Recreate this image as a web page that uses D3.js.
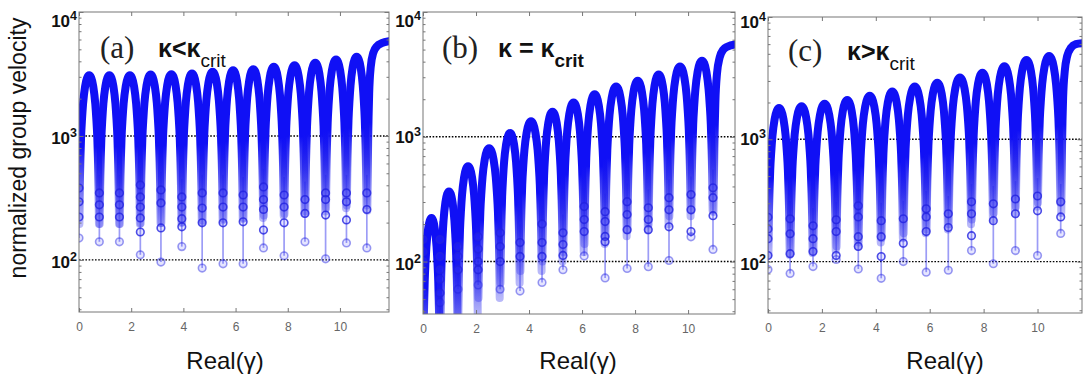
<!DOCTYPE html>
<html><head><meta charset="utf-8">
<script src="https://cdn.jsdelivr.net/npm/d3@7"></script>
<style>body{margin:0;background:#fff} svg{display:block}</style>
</head><body>
<script>
// ---------- data ----------
// shared arch profile: fraction across one arch and drop below the peak (decades)
const archT    = [0.02, 0.04, 0.07, 0.10, 0.15, 0.20, 0.30, 0.40, 0.50, 0.60, 0.70, 0.80, 0.85, 0.90, 0.93, 0.96, 0.98];
const archDrop = [1.20, 0.90, 0.67, 0.51, 0.35, 0.23, 0.09, 0.02, 0.00, 0.02, 0.09, 0.23, 0.35, 0.51, 0.67, 0.90, 1.20];

// panel (a)
const dipsA  = [0, 0.78, 1.55, 2.35, 3.14, 3.94, 4.72, 5.52, 6.29, 7.07, 7.86, 8.66, 9.45, 10.25, 11.03];
const peaksA = [3090, 3090, 3090, 3130, 3150, 3190, 3290, 3390, 3460, 3610, 3720, 3890, 4140, 4350];
const finalXA = [11.05, 11.08, 11.12, 11.18, 11.28, 11.42, 11.60, 11.88];
const finalVA = [250, 900, 2200, 3600, 4700, 5300, 5600, 5800];
const circlesA = [[380,294,222,150],[347,278,222,140],[347,278,222,140],[403,322,267,218,168,110],
  [367,288,181,96],[322,267,215,185,128],[347,262,199,86],[347,267,199,93],[334,267,203,93],
  [388,307,255,174,125],[334,267,199,108],[307,237,140],[347,307,230,102],[347,294,210,137],[347,255,125]];
const lineMinA = [150,140,140,110,96,128,86,93,93,125,108,140,102,137,125];

// panel (b)
const dipsB  = [0, 0.64, 1.32, 2.08, 2.91, 3.66, 4.49, 5.28, 6.08, 6.87, 7.70, 8.50, 9.28, 10.11, 10.94];
const peaksB = [223, 365, 580, 810, 1070, 1330, 1590, 1880, 2190, 2530, 2810, 3150, 3660, 4070];
const finalXB = [10.96, 10.99, 11.03, 11.09, 11.19, 11.33, 11.50, 11.77];
const finalVB = [250, 800, 1900, 3200, 4300, 5000, 5300, 5500];
const circlesB = [[150,120,100,86,72,57],[150,110,86,72,56,47],[132,110,86,60],[158,126,100,86,65],
  [170,132,100,60],[142,110,58],[200,142,110,68],[170,137,112,86],[276,217,174,111],
  [251,209,159,144,74],[302,238,180,88],[270,217,180,91],[325,260,190,102],[344,260,174,158],[390,325,233,125]];
const lineMinB = [30,30,60,65,60,58,68,86,111,74,88,91,102,158,125];

// panel (c)
const dipsC  = [0, 0.82, 1.67, 2.53, 3.35, 4.20, 5.02, 5.87, 6.69, 7.55, 8.36, 9.18, 10.00, 10.86];
const peaksC = [1800, 1860, 1950, 2100, 2270, 2460, 2700, 2900, 3200, 3500, 3950, 4450, 4800];
const finalXC = [10.88, 10.91, 10.95, 11.01, 11.10, 11.24, 11.42, 11.65];
const finalVC = [250, 900, 2200, 3600, 4800, 5600, 6000, 6100];
const circlesC = [[230,185,154,112,86],[224,169,116,80],[196,154,121,91],[220,176,112,104],
  [286,232,160,133,87],[216,160,110,73],[224,141,100],[270,232,176,82],[246,190,85],
  [308,246,163,123],[297,216,96],[325,246,123],[344,260,112],[308,232,170]];
const lineMinC = [86,80,91,104,87,73,100,82,85,123,96,123,112,170];

const xTicks = [0, 2, 4, 6, 8, 10];
const yMajor = [100, 1000, 10000];
const gridVals = [100, 1000];

// ---------- layout ----------
const W = 1085, H = 380;
const svg = d3.select("body").append("svg").attr("width", W).attr("height", H)
  .style("font-family", "'Liberation Sans', Arial, sans-serif");

const defs = svg.append("defs");
const grad = defs.append("linearGradient").attr("id", "fade")
  .attr("x1", 0).attr("y1", 0).attr("x2", 0).attr("y2", 1);
grad.append("stop").attr("offset", 0).attr("stop-color", "#1010f5").attr("stop-opacity", 1);
grad.append("stop").attr("offset", 0.48).attr("stop-color", "#1010f5").attr("stop-opacity", 1);
grad.append("stop").attr("offset", 0.72).attr("stop-color", "#2020ee").attr("stop-opacity", 0.72);
grad.append("stop").attr("offset", 1).attr("stop-color", "#3535ee").attr("stop-opacity", 0.35);

const panels = [
  {id:"a", box:[79,389,12,312], xMax:11.88, dips:dipsA, peaks:peaksA, circles:circlesA, lineMin:lineMinA,
   fx:finalXA, fv:finalVA, tag:"(a)", tagX:100, tagY:58, rel:"<", relX:158, relY:57, critBold:false,
   xlab:225, ylOff:[8,8,15]},
  {id:"b", box:[423,735,12,314], xMax:11.77, dips:dipsB, peaks:peaksB, circles:circlesB, lineMin:lineMinB,
   fx:finalXB, fv:finalVB, tag:"(b)", tagX:442, tagY:58, rel:" = ", relX:498, relY:57, critBold:true,
   xlab:578, ylOff:[8,6,15]},
  {id:"c", box:[768,1082,17,313], xMax:11.65, dips:dipsC, peaks:peaksC, circles:circlesC, lineMin:lineMinC,
   fx:finalXC, fv:finalVC, tag:"(c)", tagX:788, tagY:61, rel:">", relX:847, relY:60, critBold:false,
   xlab:945, ylOff:[8,6,11]}
];

panels.forEach(p => {
  const [L, R, T, B] = p.box;
  const x = d3.scaleLinear().domain([0, p.xMax]).range([L, R]);
  const y = d3.scaleLog().domain([38, 10000]).range([B, T]);
  const g = svg.append("g");

  defs.append("clipPath").attr("id", "clip" + p.id)
    .append("rect").attr("x", L).attr("y", T).attr("width", R - L).attr("height", B - T);

  // grid (dotted)
  g.selectAll(".grid").data(gridVals).enter().append("line")
    .attr("x1", L).attr("x2", R).attr("y1", d => y(d)).attr("y2", d => y(d))
    .attr("stroke", "#000").attr("stroke-width", 1.4).attr("stroke-dasharray", "1.6,1.6");

  const marks = g.append("g").attr("clip-path", `url(#clip${p.id})`);
  const line = d3.line().x(d => x(d[0])).y(d => y(d[1])).curve(d3.curveMonotoneX);

  // thin connector lines at each dip
  marks.selectAll(".dl").data(p.dips).enter().append("line")
    .attr("x1", d => x(d)).attr("x2", d => x(d))
    .attr("y1", (d, i) => y(p.circles[i][0] * 1.4))
    .attr("y2", (d, i) => y(p.lineMin[i]))
    .attr("stroke", "#3a3aee").attr("stroke-opacity", 0.5).attr("stroke-width", 1.7);

  // arches
  const arches = p.peaks.map((pk, i) => archT.map((t, j) =>
    [p.dips[i] + t * (p.dips[i + 1] - p.dips[i]), pk * Math.pow(10, -archDrop[j])]));
  marks.selectAll(".arch").data(arches).enter().append("path")
    .attr("d", line).attr("fill", "none").attr("stroke", "url(#fade)")
    .attr("stroke-width", 8).attr("stroke-linecap", "round");

  // final rise
  marks.append("path").datum(p.fx.map((v, i) => [v, p.fv[i]]))
    .attr("d", line).attr("fill", "none").attr("stroke", "url(#fade)")
    .attr("stroke-width", 8).attr("stroke-linecap", "round");

  // discrete circles at dips
  p.circles.forEach((arr, i) => {
    marks.selectAll(null).data(arr).enter().append("circle")
      .attr("cx", x(p.dips[i])).attr("cy", d => y(d)).attr("r", 3.8)
      .attr("fill", "#5050ff").attr("fill-opacity", 0.15)
      .attr("stroke", "#2222e0").attr("stroke-opacity", (d, k) => k === arr.length - 1 ? 0.45 : 0.8)
      .attr("stroke-width", 1.6);
  });

  // box
  g.append("rect").attr("x", L).attr("y", T).attr("width", R - L).attr("height", B - T)
    .attr("fill", "none").attr("stroke", "#777").attr("stroke-width", 1);

  // x ticks (inward, bottom + top)
  const xb = g.append("g").attr("transform", `translate(0,${B})`)
    .call(d3.axisBottom(x).tickValues(xTicks).tickSize(-4).tickPadding(10).tickFormat(d3.format("d")));
  const xt = g.append("g").attr("transform", `translate(0,${T})`)
    .call(d3.axisTop(x).tickValues(xTicks).tickSize(-4).tickFormat(""));
  [xb, xt].forEach(a => {
    a.select(".domain").remove();
    a.selectAll("line").attr("stroke", "#777");
  });
  xb.selectAll("text").attr("fill", "#666").attr("font-size", 12);

  // y minor / major ticks (left + right)
  const minor = [];
  [10, 100, 1000].forEach(dec => { for (let k = 2; k <= 9; k++) if (dec * k >= 38) minor.push(dec * k); });
  [[d3.axisLeft, L], [d3.axisRight, R]].forEach(([ax, pos]) => {
    const a1 = g.append("g").attr("transform", `translate(${pos},0)`)
      .call(ax(y).tickValues(minor).tickSize(-2.5).tickFormat(""));
    const a2 = g.append("g").attr("transform", `translate(${pos},0)`)
      .call(ax(y).tickValues(yMajor).tickSize(-4.5).tickFormat(""));
    [a1, a2].forEach(a => { a.select(".domain").remove(); a.selectAll("line").attr("stroke", "#777"); });
  });

  // y labels 10^n
  yMajor.forEach((v, i) => {
    const t = g.append("text").attr("x", L - 2).attr("y", y(v) + p.ylOff[i])
      .attr("text-anchor", "end").attr("fill", "#111").attr("font-weight", "bold");
    t.append("tspan").attr("font-size", 17).text("10");
    t.append("tspan").attr("font-size", 12.5).attr("dy", -7).text(String(Math.round(Math.log10(v))));
  });

  // x label
  g.append("text").attr("x", p.xlab).attr("y", 369).attr("text-anchor", "middle")
    .attr("font-size", 24).attr("fill", "#111").text("Real(γ)");

  // panel tag and kappa relation
  g.append("text").attr("x", p.tagX).attr("y", p.tagY)
    .attr("font-family", "'Liberation Serif', 'Times New Roman', serif")
    .attr("font-size", 31).attr("fill", "#222").text(p.tag);
  const k = g.append("text").attr("x", p.relX).attr("y", p.relY).attr("fill", "#111")
    .attr("font-size", 25).attr("font-weight", "bold");
  k.append("tspan").text("κ" + p.rel + "κ");
  k.append("tspan").attr("dy", 10).attr("font-size", 19)
    .attr("font-weight", p.critBold ? "bold" : "normal").text("crit");
});

// y axis title
svg.append("text").attr("transform", "translate(26,148) rotate(-90)")
  .attr("text-anchor", "middle").attr("font-size", 23).attr("fill", "#111")
  .text("normalized group velocity");
</script>
</body></html>
